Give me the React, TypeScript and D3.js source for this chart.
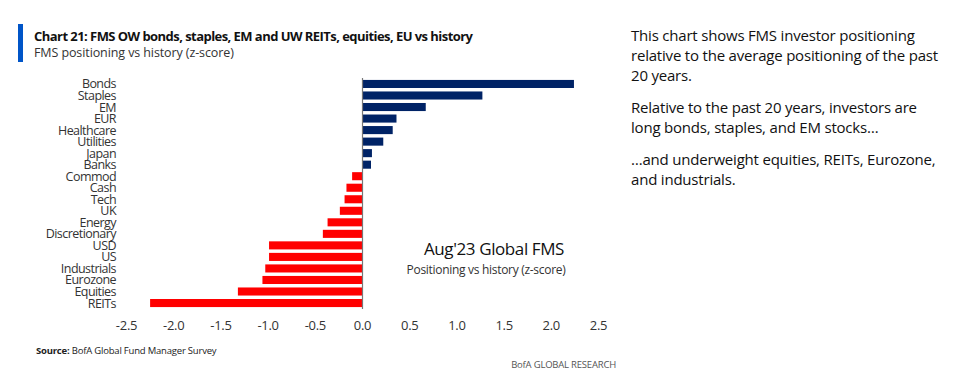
import React from "react";
import * as d3 from "d3";

const categories = ["Bonds","Staples","EM","EUR","Healthcare","Utilities","Japan","Banks","Commod","Cash","Tech","UK","Energy","Discretionary","USD","US","Industrials","Eurozone","Equities","REITs"];
const values = [2.24,1.27,0.67,0.36,0.32,0.22,0.1,0.09,-0.11,-0.17,-0.19,-0.24,-0.37,-0.42,-0.99,-0.99,-1.03,-1.06,-1.32,-2.25];
const ticks = [-2.5,-2.0,-1.5,-1.0,-0.5,0.0,0.5,1.0,1.5,2.0,2.5];
const sideText = [
  ["This chart shows FMS investor positioning", "relative to the average positioning of the past", "20 years."],
  ["Relative to the past 20 years, investors are", "long bonds, staples, and EM stocks…"],
  ["…and underweight equities, REITs, Eurozone,", "and industrials."],
];

export default function App() {
  const x = d3.scaleLinear().domain([-2.5, 2.5]).range([126.5, 598.5]);
  const y = d3.scaleBand().domain(categories).range([78.2, 308.8]).paddingInner(0.3).paddingOuter(0.15);
  const font = "'Open Sans', sans-serif";
  let yy = 41;
  const paraLines: { t: string; y: number }[] = [];
  sideText.forEach((p) => {
    p.forEach((l) => { paraLines.push({ t: l, y: yy }); yy += 20.2; });
    yy += 11.5;
  });
  return (
    <svg width={958} height={381} style={{ position: "absolute", left: 0, top: 0, background: "#fff" }} fontFamily={font}>
      <rect x={18} y={24} width={5} height={38} fill="#0055c8" />
      <text x={34} y={41} fontSize={13} fontWeight={700} fill="#111" letterSpacing={-0.55}>Chart 21: FMS OW bonds, staples, EM and UW REITs, equities, EU vs history</text>
      <text x={34} y={57} fontSize={12.5} fill="#333" letterSpacing={-0.1}>FMS positioning vs history (z-score)</text>
      {categories.map((c, i) => {
        const v = values[i];
        return (
          <rect key={c} x={x(Math.min(0, v))} y={y(c)} width={Math.abs(x(v) - x(0))} height={y.bandwidth()} fill={v >= 0 ? "#002366" : "#ff0000"} />
        );
      })}
      <line x1={x(0)} x2={x(0)} y1={78} y2={309} stroke="#777" strokeWidth={1.2} />
      {categories.map((c) => (
        <text key={c} x={116} y={(y(c) as number) + y.bandwidth() / 2 + 4.5} textAnchor="end" fontSize={12.5} fill="#333" letterSpacing={-0.55}>{c}</text>
      ))}
      {ticks.map((t) => (
        <text key={t} x={x(t)} y={329.5} textAnchor="middle" fontSize={13} fill="#333" letterSpacing={-0.3}>{d3.format(".1f")(t).replace("−", "-")}</text>
      ))}
      <text x={494} y={255} textAnchor="middle" fontSize={17} fill="#111" letterSpacing={-0.4}>Aug'23 Global FMS</text>
      <text x={486} y={274} textAnchor="middle" fontSize={12} fill="#333" letterSpacing={-0.3}>Positioning vs history (z-score)</text>
      <text x={36} y={354} fontSize={9.5} fill="#222" letterSpacing={-0.2}><tspan fontWeight={700}>Source:</tspan>  BofA Global Fund Manager Survey</text>
      <text x={616} y={368} textAnchor="end" fontSize={9.5} fill="#555" letterSpacing={-0.2}>BofA GLOBAL RESEARCH</text>
      {paraLines.map((l, i) => (
        <text key={i} x={631} y={l.y} fontSize={15} fill="#111" letterSpacing={-0.2}>{l.t}</text>
      ))}
    </svg>
  );
}
